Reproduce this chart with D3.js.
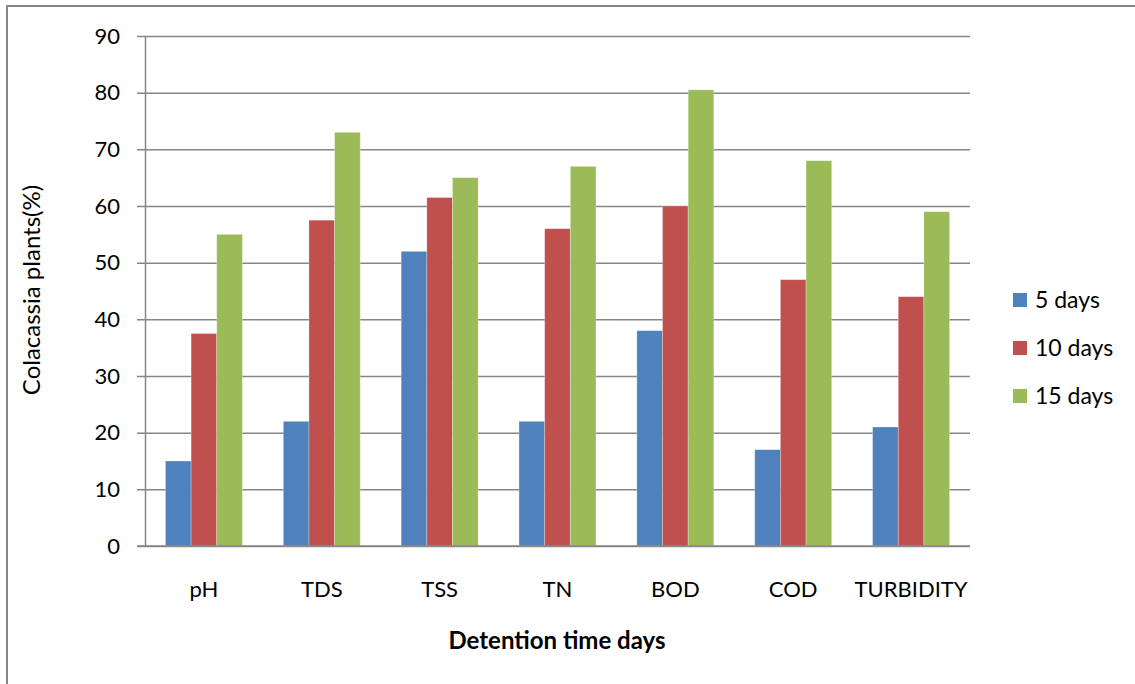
<!DOCTYPE html>
<html>
<head>
<meta charset="utf-8">
<script src="https://cdn.jsdelivr.net/npm/d3@7"></script>
<style>
  html, body { margin: 0; padding: 0; background: #fff; }
  svg { display: block; font-family: "Lato", "Open Sans", sans-serif; }
</style>
</head>
<body>
<svg id="chart" width="1135" height="684"></svg>
<script>
// Removal efficiency by parameter and detention time
const categories = ["pH", "TDS", "TSS", "TN", "BOD", "COD", "TURBIDITY"];
const seriesNames = ["5 days", "10 days", "15 days"];
const days5  = [15, 22, 52, 22, 38, 17, 21];
const days10 = [37.5, 57.5, 61.5, 56, 60, 47, 44];
const days15 = [55, 73, 65, 67, 80.5, 68, 59];
const yTicks = [0, 10, 20, 30, 40, 50, 60, 70, 80, 90];
const colors = ["#4F81BD", "#C0504D", "#9BBB59"];

const seriesValues = [days5, days10, days15];

const svg = d3.select("#chart");
const plot = { left: 145, right: 970, top: 36, bottom: 546 };
const fontFamily = "Lato, 'Open Sans', sans-serif";

// outer chart frame
svg.append("rect")
  .attr("x", 7).attr("y", 6)
  .attr("width", 1160).attr("height", 700)
  .attr("fill", "none").attr("stroke", "#878787").attr("stroke-width", 2);

const x = d3.scaleBand().domain(categories).range([plot.left, plot.right]).paddingInner(0).paddingOuter(0);
const y = d3.scaleLinear().domain([0, 90]).range([plot.bottom, plot.top]);

// gridlines with left tick stubs
const yAxis = d3.axisLeft(y).tickValues(yTicks).tickSize(8).tickSizeOuter(0).tickPadding(10);
const gy = svg.append("g").attr("transform", `translate(${plot.left},0)`).call(yAxis);
gy.select(".domain").attr("stroke", "#868686").attr("stroke-width", 1.5);
gy.selectAll(".tick line").attr("stroke", "#868686").attr("stroke-width", 1.5)
  .attr("x2", plot.right - plot.left).attr("x1", -8);
gy.selectAll(".tick text")
  .attr("font-size", 22).attr("fill", "#000")
  .attr("font-family", fontFamily)
  .attr("x", -25);

// bars
const groupWidth = x.bandwidth() * 0.653;
const xs = d3.scaleBand().domain(seriesNames).range([0, groupWidth]).padding(0);

const groups = svg.append("g").selectAll("g")
  .data(categories)
  .join("g")
  .attr("transform", c => `translate(${x(c) + (x.bandwidth() - groupWidth) / 2},0)`);

groups.selectAll("rect")
  .data((c, i) => seriesNames.map((s, k) => ({ s, k, v: seriesValues[k][i] })))
  .join("rect")
  .attr("x", d => xs(d.s))
  .attr("width", xs.bandwidth())
  .attr("y", d => y(d.v))
  .attr("height", d => y(0) - y(d.v))
  .attr("fill", d => colors[d.k])
  .attr("stroke", "rgba(255,255,255,0.35)")
  .attr("stroke-width", 0.8);

// x baseline
svg.append("line")
  .attr("x1", plot.left - 8).attr("x2", plot.right)
  .attr("y1", plot.bottom).attr("y2", plot.bottom)
  .attr("stroke", "#868686").attr("stroke-width", 1.5);

// category labels
const xAxis = d3.axisBottom(x).tickSize(0).tickPadding(0);
const gx = svg.append("g").attr("transform", `translate(0,${plot.bottom})`).call(xAxis);
gx.select(".domain").remove();
gx.selectAll(".tick text")
  .attr("font-size", 22).attr("fill", "#000")
  .attr("font-family", fontFamily)
  .attr("dy", 0).attr("y", 51);

// axis titles
svg.append("text")
  .attr("x", (plot.left + plot.right) / 2 - 0.5).attr("y", 649)
  .attr("text-anchor", "middle").attr("font-size", 24).attr("font-weight", "bold")
  .text("Detention time days");

svg.append("text")
  .attr("transform", `translate(40,${(plot.top + plot.bottom) / 2 - 1}) rotate(-90)`)
  .attr("text-anchor", "middle").attr("font-size", 24)
  .text("Colacassia plants(%)");

// legend
const legend = svg.append("g").selectAll("g")
  .data(seriesNames)
  .join("g")
  .attr("transform", (d, i) => `translate(1013,${300 + i * 48})`);
legend.append("rect")
  .attr("x", 0).attr("y", -7).attr("width", 14).attr("height", 14)
  .attr("fill", (d, i) => colors[i]);
legend.append("text")
  .attr("x", 22).attr("y", 8)
  .attr("font-size", 23)
  .text(d => d);
</script>
</body>
</html>
